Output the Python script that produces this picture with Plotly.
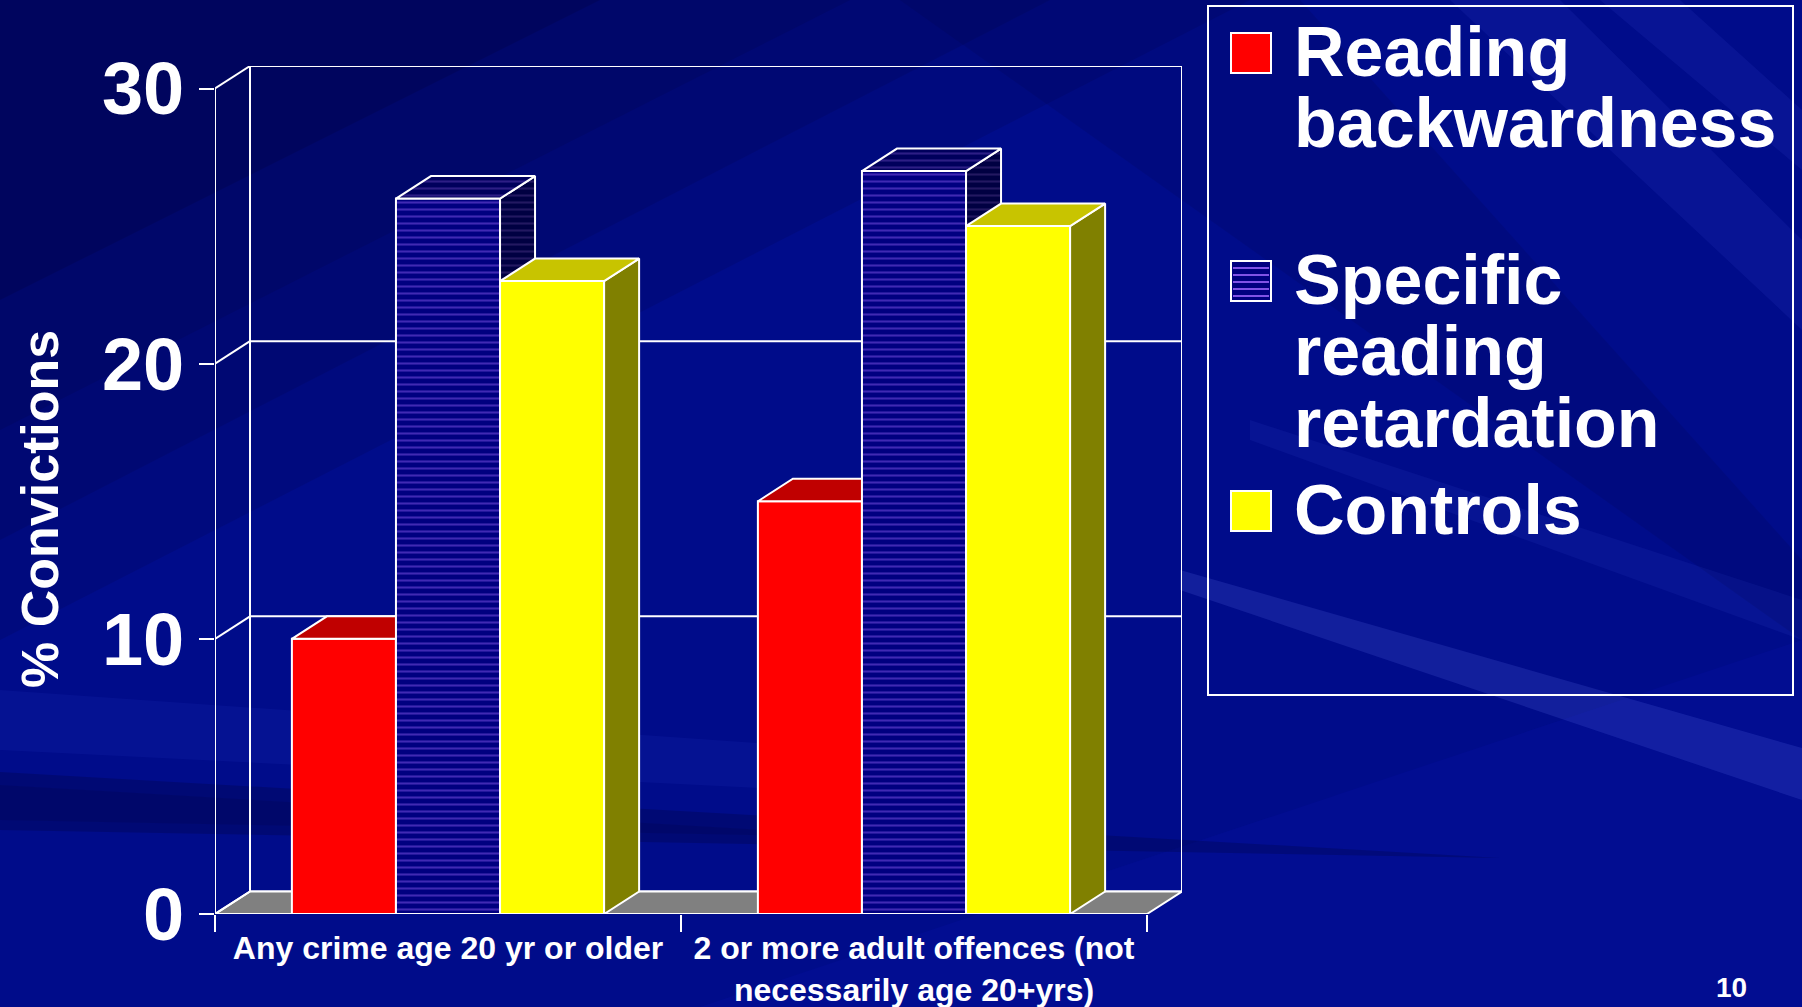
import plotly.graph_objects as go

# ---------------- data ----------------
categories = ["Any crime age 20 yr or older",
              "2 or more adult offences (not<br>necessarily age 20+yrs)"]
series_names = ["Reading backwardness", "Specific reading retardation", "Controls"]
reading_backwardness = [10, 15]
specific_reading_retardation = [26, 27]
controls = [23, 25]
y_ticks = [0, 10, 20, 30]
y_title = "% Convictions"
slide_number = "10"

series_values = [reading_backwardness, specific_reading_retardation, controls]

# ---------------- geometry / style ----------------
W, H = 1802, 1007
M_L, M_R, M_T, M_B = 215, 620, 66, 93
PW = W - M_L - M_R          # plot width
PH = H - M_T - M_B          # plot height
DX_PX, DY_PX = 35, 22.5     # 3-D depth offset in pixels
N_CAT = len(categories)
Y_MAX = max(y_ticks)
X_UNIT_PX = (PW - DX_PX) / N_CAT
Y_UNIT_PX = (PH - DY_PX) / Y_MAX
DX = DX_PX / X_UNIT_PX       # depth in data units
DY = DY_PX / Y_UNIT_PX
GAP = 0.33
BAR_W = (1 - GAP) / len(series_names)

FONT = "Liberation Sans, Arial, sans-serif"
WHITE = "#ffffff"
OUT_W = 2

styles = [
    dict(front=dict(color="#ff0000"), top=dict(color="#c00000"), side=dict(color="#800000")),
    dict(front=dict(color="#000080", pat="#8052e6"),
         top=dict(color="#00005c", pat="#5a3cae"),
         side=dict(color="#000042", pat="#45307f")),
    dict(front=dict(color="#ffff00"), top=dict(color="#c8c400"), side=dict(color="#808000")),
]


def xp(px):
    return (px - M_L) / PW


def yp(py):
    return (H - M_B - py) / PH


def face(xs, ys, st):
    kw = dict(x=xs + [xs[0]], y=ys + [ys[0]], mode="lines", fill="toself",
              line=dict(color=WHITE, width=OUT_W), hoverinfo="skip",
              showlegend=False, fillcolor=st["color"])
    if "pat" in st:
        kw["fillpattern"] = dict(shape="-", bgcolor=st["color"], fgcolor=st["pat"],
                                 size=7, solidity=0.3)
    return go.Scatter(**kw)


def lines(xs, ys):
    return go.Scatter(x=xs, y=ys, mode="lines", line=dict(color=WHITE, width=OUT_W),
                      hoverinfo="skip", showlegend=False)


fig = go.Figure()

# back wall: frame + gridlines at the inner ticks
wx, wy = [DX, N_CAT + DX, N_CAT + DX, DX, DX], [DY, DY, Y_MAX + DY, Y_MAX + DY, DY]
for v in y_ticks[1:-1]:
    wx += [None, DX, N_CAT + DX]
    wy += [None, v + DY, v + DY]
fig.add_trace(lines(wx, wy))

# floor
fig.add_trace(face([0, N_CAT, N_CAT + DX, DX], [0, 0, DY, DY], dict(color="#808080")))

# left wall connectors + front value axis line
cx, cy = [], []
for v in y_ticks:
    cx += [0, DX, None]
    cy += [v, v + DY, None]
cx += [0, 0]
cy += [0, Y_MAX]
fig.add_trace(lines(cx, cy))

# 3-D bars
for c in range(N_CAT):
    for s, vals in enumerate(series_values):
        v = vals[c]
        x0 = c + GAP / 2 + s * BAR_W
        x1 = x0 + BAR_W
        st = styles[s]
        fig.add_trace(face([x0, x1, x1, x0], [0, 0, v, v], st["front"]))
        fig.add_trace(face([x1, x1 + DX, x1 + DX, x1], [0, DY, v + DY, v], st["side"]))
        fig.add_trace(face([x0, x1, x1 + DX, x0 + DX], [v, v, v + DY, v + DY], st["top"]))

fig.update_layout(
    xaxis=dict(range=[0, N_CAT + DX], showgrid=False, zeroline=False, showline=False,
               automargin=False,
               tickmode="array", tickvals=[i + 0.5 for i in range(N_CAT)],
               ticktext=categories, ticks="", ticklabelstandoff=12,
               tickfont=dict(family=FONT, size=32, color=WHITE, weight="bold"),
               minor=dict(tickmode="array", tickvals=list(range(N_CAT + 1)),
                          ticks="outside", ticklen=17, tickwidth=OUT_W,
                          tickcolor=WHITE, showgrid=False),
               fixedrange=True),
    yaxis=dict(range=[0, Y_MAX + DY], showgrid=False, zeroline=False, showline=False,
               automargin=False,
               tickmode="array", tickvals=y_ticks, ticks="outside", ticklen=15,
               tickwidth=OUT_W, tickcolor=WHITE, ticklabelstandoff=0,
               tickfont=dict(family=FONT, size=74, color=WHITE, weight="bold"),
               fixedrange=True),
)

# ---------------- background ----------------
shapes = []


def poly(pts, color):
    path = "M " + " L ".join(f"{xp(x):.5f},{yp(y):.5f}" for x, y in pts) + " Z"
    return dict(type="path", path=path, xref="paper", yref="paper", fillcolor=color,
                layer="below", line=dict(width=0))


bg_layers = [
    ([(0, 0), (1250, 0), (0, 640)], "rgba(0,0,40,0.12)"),
    ([(0, 0), (1050, 0), (0, 540)], "rgba(0,0,40,0.12)"),
    ([(0, 0), (850, 0), (0, 430)], "rgba(0,0,40,0.12)"),
    ([(0, 0), (600, 0), (0, 300)], "rgba(0,0,30,0.15)"),
    ([(700, 1007), (1802, 640), (1802, 1007)], "rgba(20,30,220,0.10)"),
    ([(0, 690), (0, 750), (1000, 800), (1000, 760)], "rgba(70,100,255,0.07)"),
    ([(0, 772), (0, 830), (1500, 858)], "rgba(0,0,40,0.22)"),
    ([(0, 785), (0, 820), (900, 838)], "rgba(0,0,40,0.12)"),
    ([(1180, 570), (1802, 748), (1802, 800), (1180, 590)], "rgba(110,130,255,0.16)"),
    ([(1250, 420), (1802, 600), (1802, 640), (1250, 440)], "rgba(90,110,255,0.08)"),
    ([(1450, 0), (1560, 0), (1802, 240), (1802, 330)], "rgba(90,110,255,0.09)"),
    ([(1600, 0), (1680, 0), (1802, 110), (1802, 170)], "rgba(90,110,255,0.09)"),
    ([(900, 0), (1300, 0), (1802, 560), (1802, 640)], "rgba(0,0,40,0.10)"),
]
for pts, col in bg_layers:
    shapes.append(poly(pts, col))

# ---------------- legend (custom) ----------------
LEG_BOX = (1208, 6, 1793, 695)
shapes.append(dict(type="rect", xref="paper", yref="paper",
                   x0=xp(LEG_BOX[0]), x1=xp(LEG_BOX[2]), y0=yp(LEG_BOX[3]), y1=yp(LEG_BOX[1]),
                   line=dict(color=WHITE, width=2), fillcolor="rgba(0,0,0,0)", layer="above"))
leg_line_centers = [[52, 123], [280, 351, 423], [510]]
SW_X0, SW_X1, SW_H = 1231, 1271, 40
annotations = []
for s, name in enumerate(series_names):
    centers = leg_line_centers[s]
    c0 = centers[0] + 1
    st = styles[s]["front"]
    shapes.append(dict(type="rect", xref="paper", yref="paper",
                       x0=xp(SW_X0), x1=xp(SW_X1), y0=yp(c0 + SW_H / 2), y1=yp(c0 - SW_H / 2),
                       fillcolor=st["color"], line=dict(color=WHITE, width=2), layer="above"))
    if "pat" in st:
        yy = c0 - SW_H / 2 + 7
        while yy < c0 + SW_H / 2 - 2:
            shapes.append(dict(type="line", xref="paper", yref="paper",
                               x0=xp(SW_X0 + 2), x1=xp(SW_X1 - 2), y0=yp(yy), y1=yp(yy),
                               line=dict(color=st["pat"], width=2), layer="above"))
            yy += 7
    for word, cy_ in zip(name.split(), centers):
        annotations.append(dict(text=word, xref="paper", yref="paper", x=xp(1292), y=yp(cy_),
                                xanchor="left", yanchor="middle", showarrow=False,
                                font=dict(family=FONT, size=70, color=WHITE, weight="bold")))

# y axis title
annotations.append(dict(text=y_title, xref="paper", yref="paper", x=xp(40), y=yp(509),
                        xanchor="center", yanchor="middle", textangle=-90, showarrow=False,
                        font=dict(family=FONT, size=52, color=WHITE, weight="bold")))
# slide number at the bottom-right corner
annotations.append(dict(text=slide_number, xref="paper", yref="paper", x=xp(1731), y=yp(1005),
                        xanchor="center", yanchor="bottom", showarrow=False,
                        font=dict(family=FONT, size=28, color=WHITE, weight="bold")))

fig.update_layout(
    width=W, height=H, autosize=False,
    margin=dict(l=M_L, r=M_R, t=M_T, b=M_B, pad=0, autoexpand=False),
    paper_bgcolor="#000c8a", plot_bgcolor="rgba(0,0,0,0)",
    shapes=shapes, annotations=annotations, showlegend=False,
    font=dict(family=FONT, color=WHITE),
)

fig.write_html("out.html", config={"displayModeBar": False},
               post_script="document.body.style.margin='0';document.body.style.overflow='hidden';")
